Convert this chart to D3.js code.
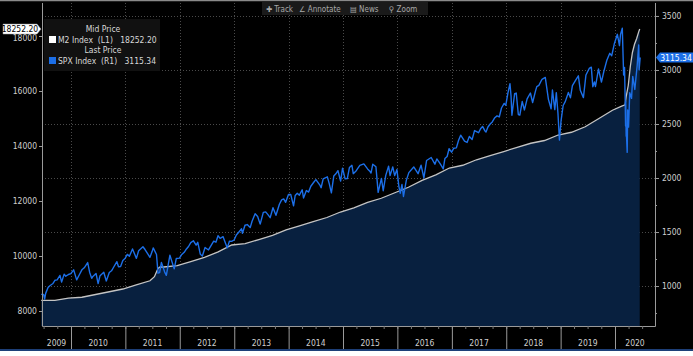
<!DOCTYPE html>
<html><head><meta charset="utf-8">
<script src="https://cdn.jsdelivr.net/npm/d3@7"></script>
<style>
html,body{margin:0;padding:0;background:#000;}
svg{display:block;font-family:"DejaVu Sans Condensed","DejaVu Sans","Liberation Sans Narrow",sans-serif;}
</style></head>
<body>
<svg id="c" width="693" height="356"></svg>
<script>
// ---- data ----
const m2Dates = ["2009-06-15","2009-09-15","2009-12-15","2010-03-15","2010-06-15","2010-09-15","2010-12-15","2011-03-15","2011-06-15","2011-07-15","2011-08-08","2011-08-22","2011-09-15","2011-12-15","2012-03-15","2012-06-15","2012-09-15","2012-12-15","2013-03-15","2013-06-15","2013-09-15","2013-12-15","2014-03-15","2014-06-15","2014-09-15","2014-12-15","2015-03-15","2015-06-15","2015-09-15","2015-12-15","2016-03-15","2016-06-15","2016-09-15","2016-12-15","2017-03-15","2017-06-15","2017-09-15","2017-12-15","2018-03-15","2018-06-15","2018-09-15","2018-12-15","2019-03-15","2019-06-15","2019-09-15","2019-12-15","2020-02-15","2020-03-09","2020-03-16","2020-03-30","2020-04-13","2020-04-27","2020-05-11","2020-05-25","2020-06-08","2020-06-15"];
const m2Values = [8390,8390,8470,8500,8600,8700,8800,8950,9100,9250,9550,9600,9600,9650,9800,9950,10150,10400,10450,10600,10750,10950,11100,11250,11400,11600,11750,11950,12100,12300,12500,12750,12950,13200,13300,13500,13650,13800,13950,14100,14200,14400,14500,14700,15000,15300,15450,15500,15800,16200,16900,17400,17700,17900,18150,18252.2];

const spxDates = ["2009-06-15","2009-07-01","2009-07-08","2009-07-15","2009-07-31","2009-08-14","2009-08-31","2009-09-15","2009-09-30","2009-10-19","2009-10-30","2009-11-16","2009-11-27","2009-12-15","2009-12-31",
"2010-01-19","2010-02-08","2010-02-26","2010-03-15","2010-03-31","2010-04-23","2010-05-06","2010-05-20","2010-05-28","2010-06-18","2010-07-02","2010-07-15","2010-08-09","2010-08-26","2010-09-15","2010-09-30","2010-10-15","2010-11-05","2010-11-16","2010-11-30","2010-12-15","2010-12-31",
"2011-01-14","2011-01-28","2011-02-18","2011-03-16","2011-03-31","2011-04-29","2011-05-13","2011-06-15","2011-06-30","2011-07-07","2011-07-29","2011-08-08","2011-08-19","2011-08-31","2011-09-22","2011-10-03","2011-10-27","2011-11-25","2011-12-09","2011-12-30",
"2012-01-13","2012-01-31","2012-02-15","2012-02-29","2012-03-15","2012-04-02","2012-04-20","2012-05-01","2012-05-18","2012-06-01","2012-06-19","2012-07-12","2012-07-31","2012-08-16","2012-08-31","2012-09-14","2012-09-28","2012-10-18","2012-11-15","2012-11-30","2012-12-14","2012-12-31",
"2013-01-15","2013-01-31","2013-02-19","2013-02-25","2013-03-14","2013-03-29","2013-04-18","2013-04-30","2013-05-21","2013-06-07","2013-06-24","2013-07-15","2013-07-31","2013-08-15","2013-08-30","2013-09-18","2013-10-08","2013-10-31","2013-11-15","2013-11-29","2013-12-12","2013-12-31",
"2014-01-15","2014-02-03","2014-02-14","2014-02-28","2014-03-14","2014-04-02","2014-04-11","2014-04-30","2014-05-15","2014-05-30","2014-06-20","2014-07-03","2014-07-31","2014-08-07","2014-08-21","2014-09-18","2014-10-01","2014-10-15","2014-10-31","2014-11-14","2014-11-28","2014-12-16","2014-12-29",
"2015-01-15","2015-01-30","2015-02-13","2015-03-02","2015-03-11","2015-03-31","2015-04-24","2015-05-21","2015-06-15","2015-06-30","2015-07-08","2015-07-20","2015-08-10","2015-08-25","2015-09-16","2015-09-28","2015-10-15","2015-11-03","2015-11-13","2015-12-01","2015-12-14","2015-12-29",
"2016-01-11","2016-01-20","2016-02-01","2016-02-11","2016-03-01","2016-03-18","2016-04-20","2016-05-19","2016-06-08","2016-06-27","2016-07-15","2016-08-15","2016-09-09","2016-09-22","2016-10-14","2016-11-04","2016-11-15","2016-11-30","2016-12-13","2016-12-30",
"2017-01-13","2017-01-31","2017-02-15","2017-03-01","2017-03-27","2017-04-13","2017-04-28","2017-05-17","2017-06-02","2017-06-29","2017-07-14","2017-07-26","2017-08-10","2017-08-18","2017-08-31","2017-09-15","2017-09-29","2017-10-16","2017-10-31","2017-11-15","2017-11-30","2017-12-18","2017-12-29",
"2018-01-12","2018-01-26","2018-02-02","2018-02-08","2018-02-26","2018-03-09","2018-03-23","2018-04-02","2018-04-18","2018-05-03","2018-05-21","2018-06-12","2018-06-27","2018-07-17","2018-07-25","2018-08-08","2018-08-29","2018-09-20","2018-10-11","2018-10-29","2018-11-07","2018-11-23","2018-12-03","2018-12-14","2018-12-24",
"2019-01-04","2019-01-18","2019-02-01","2019-02-22","2019-03-08","2019-03-21","2019-04-12","2019-04-30","2019-05-13","2019-06-03","2019-06-20","2019-07-12","2019-07-26","2019-08-05","2019-08-16","2019-08-23","2019-09-12","2019-10-02","2019-10-18","2019-11-08","2019-11-27","2019-12-10","2019-12-27",
"2020-01-17","2020-01-31","2020-02-07","2020-02-19","2020-02-28","2020-03-05","2020-03-09","2020-03-12","2020-03-13","2020-03-16","2020-03-18","2020-03-23","2020-03-26","2020-04-01","2020-04-09","2020-04-21","2020-04-29","2020-05-13","2020-05-29","2020-06-08","2020-06-11","2020-06-18"];
const spxValues = [923,923,879,932,987,1005,1021,1053,1057,1098,1036,1110,1091,1107,1115,
1150,1057,1104,1150,1169,1217,1128,1071,1089,1117,1022,1096,1127,1047,1125,1141,1176,1225,1178,1181,1236,1258,
1293,1276,1343,1256,1326,1364,1338,1266,1321,1353,1292,1119,1124,1219,1129,1099,1285,1159,1255,1258,
1289,1312,1343,1366,1402,1419,1379,1405,1295,1278,1357,1334,1379,1415,1406,1466,1441,1457,1353,1416,1413,1426,
1472,1498,1530,1488,1563,1569,1541,1598,1669,1643,1573,1682,1686,1661,1633,1725,1655,1757,1798,1806,1775,1848,
1848,1742,1838,1859,1841,1891,1815,1884,1870,1924,1963,1985,1931,1910,1992,2011,1946,1862,2018,2039,2068,1972,2091,
1992,1995,2097,2117,2040,2068,2117,2131,2084,2063,2046,2128,2104,1867,1996,1882,2024,2110,2023,2103,2022,2078,
1923,1859,1940,1829,1978,2050,2102,2040,2119,2001,2162,2190,2128,2177,2133,2085,2180,2199,2271,2239,
2275,2279,2349,2396,2342,2329,2384,2357,2439,2419,2459,2478,2438,2426,2472,2500,2519,2558,2575,2565,2648,2690,2674,
2786,2873,2762,2581,2780,2786,2588,2582,2708,2630,2733,2787,2699,2809,2846,2858,2914,2931,2728,2641,2814,2633,2790,2600,2351,
2532,2671,2707,2792,2743,2855,2907,2946,2812,2744,2954,3014,3026,2845,2889,2847,3009,2888,2986,3093,3154,3132,3240,
3330,3226,3328,3386,2954,3024,2747,2481,2711,2386,2398,2237,2630,2471,2790,2737,2940,2820,3044,3232,3002,3115.34];

const leftTicks = [8000,10000,12000,14000,16000,18000];
const rightTicks = [1000,1500,2000,2500,3000,3500];
const rightMinor = [750,1250,1750,2250,2750,3250];
const yearLabels = ["2009","2010","2011","2012","2013","2014","2015","2016","2017","2018","2019","2020"];
const toolbarItems = ["\u271A Track","\u2220 Annotate","\u25A4 News","\u26B2 Zoom"];
const m2Last = "18252.20", spxLast = "3115.34";

// ---- layout ----
const W=693,H=356, L=42, R=655, T=3, B=326;
const svg = d3.select("#c");
const parse = d3.timeParse("%Y-%m-%d");
const m2 = m2Dates.map((d,i)=>({d:parse(d),v:m2Values[i]}));
const spx = spxDates.map((d,i)=>({d:parse(d),v:spxValues[i]}));

const x0 = d3.scaleTime().domain([new Date(2010,0,1),new Date(2020,0,1)]).range([71,615]);
const x = d3.scaleTime().domain([x0.invert(L),x0.invert(R)]).range([L,R]);
const yL = d3.scaleLinear().domain([7455,19200]).range([B,T]);
const yR = d3.scaleLinear().domain([630,3620]).range([B,T]);

svg.append("rect").attr("width",W).attr("height",H).attr("fill","#000");
svg.append("rect").attr("y",351).attr("width",W).attr("height",5).attr("fill","#fff");
svg.append("line").attr("x1",0).attr("x2",W).attr("y1",0.5).attr("y2",0.5).attr("stroke","#8a8a8a").attr("stroke-width",1.5);
svg.append("line").attr("x1",0).attr("x2",W).attr("y1",350).attr("y2",350).attr("stroke","#1d3f78").attr("stroke-width",2);

// grid
const years = d3.timeYear.range(x.domain()[0], x.domain()[1]);
svg.append("g").selectAll("line").data(years).join("line")
  .attr("x1",d=>Math.round(x(d))+0.5).attr("x2",d=>Math.round(x(d))+0.5).attr("y1",T).attr("y2",B)
  .attr("stroke","#4a4a4a").attr("stroke-dasharray","1,2");
svg.append("g").selectAll("line").data(rightTicks).join("line")
  .attr("x1",L).attr("x2",R).attr("y1",d=>Math.round(yR(d))+0.5).attr("y2",d=>Math.round(yR(d))+0.5)
  .attr("stroke","#4a4a4a").attr("stroke-dasharray","1,2");

// M2 area + line
svg.append("path").datum(m2)
  .attr("d",d3.area().x(d=>x(d.d)).y0(B).y1(d=>yL(d.v)))
  .attr("fill","#08203f");
svg.append("path").datum(m2)
  .attr("d",d3.line().x(d=>x(d.d)).y(d=>yL(d.v)))
  .attr("fill","none").attr("stroke","#c4c4c4").attr("stroke-width",1.3);
// SPX line
svg.append("path").datum(spx)
  .attr("d",d3.line().x(d=>x(d.d)).y(d=>yR(d.v)))
  .attr("fill","none").attr("stroke","#1c6fe8").attr("stroke-width",1.4).attr("stroke-linejoin","round");

// frame
const axisCol="#9a9a9a";
svg.append("path").attr("d",`M${L+0.5},${T}V${B+0.5}H${R+0.5}V${T}`).attr("fill","none").attr("stroke",axisCol);

// axes
const gl = svg.append("g").attr("transform",`translate(${L},0)`)
  .call(d3.axisLeft(yL).tickValues(leftTicks).tickSize(3).tickPadding(2).tickFormat(d3.format("d")));
const gr = svg.append("g").attr("transform",`translate(${R},0)`)
  .call(d3.axisRight(yR).tickValues(rightTicks).tickSize(4).tickPadding(3).tickFormat(d3.format("d")));
const grm = svg.append("g").attr("transform",`translate(${R},0)`)
  .call(d3.axisRight(yR).tickValues(rightMinor).tickSize(2).tickFormat(""));
const gq = svg.append("g").attr("transform",`translate(0,${B})`)
  .call(d3.axisBottom(x).ticks(d3.timeMonth.every(3)).tickSize(3).tickFormat(""));
const gy = svg.append("g").attr("transform",`translate(0,${B})`)
  .call(d3.axisBottom(x).tickValues(years).tickSize(23).tickFormat(""));
[gl,gr,grm,gq,gy].forEach(g=>{
  g.select(".domain").remove();
  g.selectAll("line").attr("stroke",axisCol);
  g.selectAll("text").attr("fill","#cfcfcf").attr("font-size","8.5px").attr("font-family","DejaVu Sans Condensed, DejaVu Sans, sans-serif");
});
gq.selectAll("line").attr("stroke","#777");
// the 18000 label sits partly under the last-value tag, as in the reference
gl.selectAll(".tick text").filter(d=>d===18000).attr("dy","0.55em");

// year labels
svg.append("g").selectAll("text").data(yearLabels).join("text")
  .attr("x",d=>{const a=Math.max(x(new Date(+d,0,1)),L), b=Math.min(x(new Date(+d+1,0,1)),R); return (a+b)/2;})
  .attr("y",346).attr("text-anchor","middle").attr("fill","#cfcfcf").attr("font-size","8.5px").text(d=>d);

// toolbar
const tb = svg.append("g");
tb.append("rect").attr("x",262).attr("y",2).attr("width",166).attr("height",13).attr("fill","#1a1a1a");
const tbx=[266,299,350,389];
tb.selectAll("text").data(toolbarItems).join("text")
  .attr("x",(d,i)=>tbx[i]).attr("y",12).attr("fill","#a8a8a8").attr("font-size","8px").text(d=>d);

// legend
const lg = svg.append("g");
lg.append("rect").attr("x",44).attr("y",19).attr("width",116).attr("height",52).attr("fill","#111");
lg.append("text").attr("x",103).attr("y",32).attr("text-anchor","middle").attr("fill","#d8d8d8").attr("font-size","8.5px").text("Mid Price");
lg.append("rect").attr("x",49).attr("y",36).attr("width",7).attr("height",7).attr("fill","#fff");
lg.append("text").attr("x",58).attr("y",43).attr("fill","#d8d8d8").attr("font-size","8.5px").attr("xml:space","preserve").text("M2 Index  (L1)   "+m2Last);
lg.append("text").attr("x",103).attr("y",53).attr("text-anchor","middle").attr("fill","#d8d8d8").attr("font-size","8.5px").text("Last Price");
lg.append("rect").attr("x",49).attr("y",57).attr("width",7).attr("height",7).attr("fill","#1c6fe8");
lg.append("text").attr("x",58).attr("y",64).attr("fill","#d8d8d8").attr("font-size","8.5px").attr("xml:space","preserve").text("SPX Index  (R1)   "+spxLast);

// last value tags
const ym = yL(m2Values[m2Values.length-1]);
svg.append("path").attr("d",`M3,${ym-5}H37L41,${ym}L37,${ym+5}H3Z`).attr("fill","#fff").attr("stroke","#999").attr("stroke-width",0.5);
svg.append("text").attr("x",20).attr("y",ym+3).attr("text-anchor","middle").attr("fill","#000").attr("font-size","8.5px").text(m2Last);
const ys = yR(spxValues[spxValues.length-1]);
svg.append("path").attr("d",`M656,${ys}L660,${ys-5}H693V${ys+5}H660Z`).attr("fill","#1c6fe8");
svg.append("text").attr("x",676).attr("y",ys+3).attr("text-anchor","middle").attr("fill","#fff").attr("font-size","8.5px").text(spxLast);
</script>
</body></html>
